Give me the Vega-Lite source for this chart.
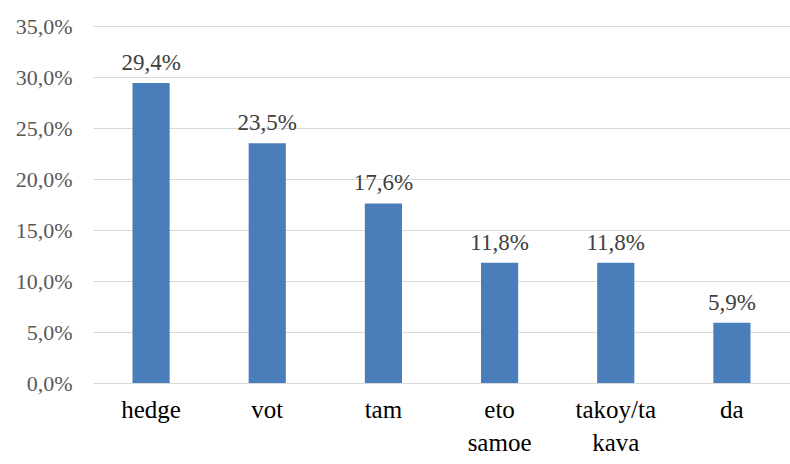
{
  "$schema": "https://vega.github.io/schema/vega-lite/v6.json",
  "autosize": "none",
  "width": 697,
  "height": 357,
  "padding": {"left": 93, "top": 26, "right": 0, "bottom": 81},
  "background": "white",
  "config": {
    "view": {"stroke": null},
    "font": "'Liberation Serif', 'DejaVu Serif', serif",
    "locale": {"number": {"decimal": ",", "thousands": " ", "grouping": [3], "currency": ["", ""]}}
  },
  "data": {"values": [
    {"word": "hedge", "share": 0.294},
    {"word": "vot", "share": 0.235},
    {"word": "tam", "share": 0.176},
    {"word": "eto samoe", "share": 0.118},
    {"word": "takoy/takava", "share": 0.118},
    {"word": "da", "share": 0.059}
  ]},
  "encoding": {
    "x": {
      "field": "word", "type": "nominal", "sort": null,
      "scale": {"paddingInner": 0.68, "paddingOuter": 0.34},
      "axis": {
        "title": null, "domain": false, "ticks": false, "labelAngle": 0,
        "labelFont": "'Liberation Serif', 'DejaVu Serif', serif", "labelFontSize": 25, "labelColor": "#000000",
        "labelPadding": 14, "labelLineHeight": 33, "labelBaseline": "top",
        "labelExpr": "datum.value == 'eto samoe' ? ['eto', 'samoe'] : datum.value == 'takoy/takava' ? ['takoy/ta', 'kava'] : datum.value"
      }
    },
    "y": {
      "field": "share", "type": "quantitative",
      "scale": {"domain": [0, 0.35], "nice": false},
      "axis": {
        "title": null, "domain": false, "ticks": false, "values": [0, 0.05, 0.1, 0.15, 0.2, 0.25, 0.3, 0.35],
        "format": ".1%",
        "labelFont": "'Liberation Serif', 'DejaVu Serif', serif", "labelFontSize": 22, "labelColor": "#595959",
        "labelPadding": 21, "grid": true, "gridColor": "#d9d9d9", "gridWidth": 1.2
      }
    }
  },
  "layer": [
    {"mark": {"type": "bar", "color": "#4a7ebb"}},
    {
      "mark": {"type": "text", "baseline": "alphabetic", "dy": -13, "font": "'Liberation Serif', 'DejaVu Serif', serif", "fontSize": 23, "color": "#404040"},
      "encoding": {"text": {"field": "share", "type": "quantitative", "format": ".1%"}}
    }
  ]
}
